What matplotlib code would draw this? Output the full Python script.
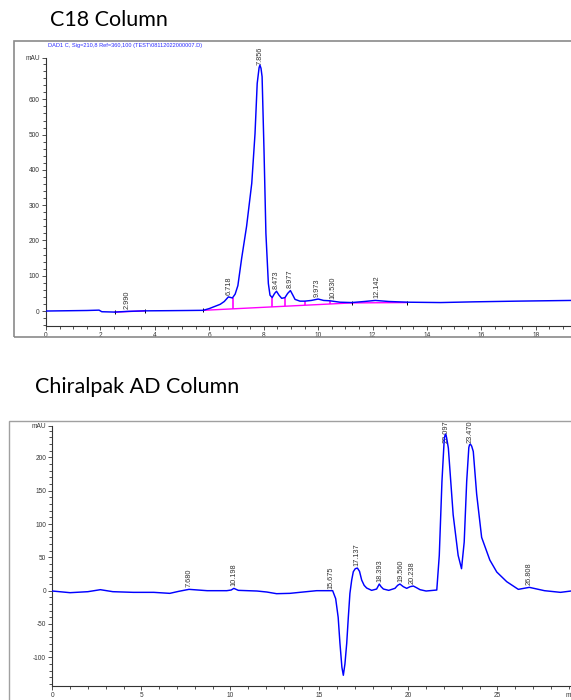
import matplotlib
matplotlib.use("Agg")
import matplotlib.pyplot as plt
from matplotlib.patches import Rectangle
from matplotlib.ticker import MultipleLocator, FixedLocator

# C18 trace (min, mAU)
c18_time = [0.0, 0.5, 1.0, 1.5, 1.95, 2.05, 2.53, 3.0, 3.64, 4.5,
            5.2, 5.78, 6.0, 6.2, 6.4, 6.55, 6.7, 6.85, 6.95, 7.05,
            7.19, 7.37, 7.56, 7.68, 7.76, 7.83, 7.86, 7.9, 7.94, 8.01,
            8.08, 8.17, 8.23, 8.31, 8.4, 8.47, 8.56, 8.66, 8.78, 8.88,
            8.98, 9.07, 9.15, 9.33, 9.51, 9.75, 10.0, 10.2, 10.43, 10.8,
            11.23, 11.7, 12.1, 12.6, 13.3, 14.5, 15.7, 17.3, 19.3]
c18_mau = [0, 0.5, 1, 1.5, 2.5, -2, -3, -1, 0.5, 1,
           1.5, 2, 7, 13, 19, 27, 40, 37, 48, 72,
           150, 240, 362, 503, 645, 690, 697, 688, 664, 456,
           220, 78, 45, 38, 50, 56, 45, 36, 38, 50,
           58, 45, 33, 28, 28, 30, 34, 30, 29, 25,
           24, 27, 30, 27, 25, 24, 26, 28, 30]
c18_peak_rt = [2.990, 6.718, 7.856, 8.473, 8.977, 9.973, 10.530, 12.142]
c18_peak_mau = [-1, 40, 697, 56, 58, 34, 29, 30]
c18_base_time = [[2.53, 3.64], [5.78, 11.23], [11.23, 13.27]]
c18_base_mau = [[-3, 0.5], [2, 23], [23, 24]]
c18_drop_time = [6.88, 8.31, 8.78, 9.51, 10.43]
c18_drop_low = [6.2, 11.7, 13.6, 16.4, 19.9]
c18_drop_high = [37, 38, 38, 28, 29]
c18_mark_time = [2.53, 3.64, 5.78, 11.23, 13.27]
c18_mark_mau = [-3, 0.5, 2, 23, 24]

# Chiralpak AD trace (min, mAU)
ad_time = [0.0, 1.0, 2.0, 2.7, 3.4, 4.55, 5.7, 6.6, 7.1, 7.68,
           8.7, 9.8, 10.05, 10.2, 10.45, 11.5, 12.05, 12.6, 13.35, 13.9,
           14.85, 15.75, 15.92, 16.06, 16.16, 16.27, 16.35, 16.44, 16.54, 16.63,
           16.72, 16.82, 16.91, 17.02, 17.14, 17.26, 17.38, 17.52, 17.66, 17.94,
           18.22, 18.37, 18.47, 18.6, 18.9, 19.25, 19.4, 19.53, 19.72, 19.91,
           20.1, 20.28, 20.46, 20.66, 21.0, 21.6, 21.74, 21.89, 22.02, 22.06,
           22.1, 22.15, 22.25, 22.52, 22.8, 22.99, 23.14, 23.28, 23.4, 23.44,
           23.49, 23.56, 23.65, 23.84, 24.12, 24.58, 24.97, 25.53, 26.18, 26.8,
           27.65, 28.55, 29.14]
ad_mau = [-0.5, -3, -1.5, 1.5, -1.5, -2.5, -2.5, -4, -1, 2,
          0, 0, 1, 3.5, 0.5, -0.5, -2, -4.5, -4, -2.5,
          0, 0, -12, -40, -79, -115, -127, -110, -79, -40,
          -4, 16, 28.5, 33, 34, 29, 16, 8, 4, 0.5,
          2.5, 10, 6, 2.5, 0.5, 3.5, 8, 10, 6, 3.5,
          6, 7, 4.5, 1.5, -0.5, 1, 53, 164, 228, 233,
          235, 230, 214, 114, 53, 33, 73, 164, 215, 219,
          220, 217, 209, 145, 80, 46, 28, 13.5, 2, 5,
          0, -2.5, -0.5]
ad_peak_rt = [7.680, 10.198, 15.675, 17.137, 18.393, 19.560, 20.238, 22.097, 23.470, 26.808]
ad_peak_mau = [2, 3.5, 0, 34, 10, 10, 7, 235, 220, 5]

W, H = 571, 700
fig = plt.figure(figsize=(W / 100, H / 100), dpi=100)
fig.patch.set_facecolor("white")


def px_box(left, top, right, bottom):
    return [left / W, 1 - bottom / H, (right - left) / W, (bottom - top) / H]


def style(ax):
    ax.patch.set_alpha(0)
    for s in ["top", "right"]:
        ax.spines[s].set_visible(False)
    for s in ["left", "bottom"]:
        ax.spines[s].set_color("#333333")
        ax.spines[s].set_linewidth(0.8)
    ax.tick_params(which="both", direction="out", colors="#333333",
                   labelsize=4.7, width=0.6, pad=1.5)
    ax.tick_params(which="major", length=3)
    ax.tick_params(which="minor", length=2)
    for lab in ax.get_xticklabels() + ax.get_yticklabels():
        lab.set_family("Liberation Sans")


def peak_labels(ax, rts, heights, pad, top_limit):
    texts = []
    for rt, h in zip(rts, heights):
        t = ax.text(rt, h + pad, "%.3f" % rt, rotation=90, ha="center",
                    va="bottom", fontsize=5.3, color="#333333",
                    family="Liberation Sans", clip_on=False)
        texts.append(t)
    return texts, top_limit


# frames around each chromatogram
fig.add_artist(Rectangle((14 / W, 1 - 337 / H), 1.0, (337 - 40.7) / H,
                         transform=fig.transFigure, fill=False,
                         ec="#8a8a8a", lw=1.2))
fig.add_artist(Rectangle((9 / W, -0.05), 1.0, 0.05 + 1 - 421 / H,
                         transform=fig.transFigure, fill=False,
                         ec="#a0a0a0", lw=1.0))

fig.text(50 / W, 1 - 26 / H, "C18 Column", fontsize=15.5, family="Lato",
         va="baseline", ha="left")
fig.text(35 / W, 1 - 393.3 / H, "Chiralpak AD Column", fontsize=15.5,
         family="Lato", va="baseline", ha="left")
fig.text(47.7 / W, 1 - 45.5 / H,
         "DAD1 C, Sig=210,8 Ref=360,100 (TEST\\08112022000007.D)",
         fontsize=4.1, color="#2b2bff", va="center", ha="left",
         family="Liberation Sans")

# ---- C18 panel
ax1 = fig.add_axes(px_box(46, 57.7, W, 325.7))
c18_top = 718
ax1.set_xlim(0, 19.29)
ax1.set_ylim(-41.6, c18_top)
for bt, bv in zip(c18_base_time, c18_base_mau):
    ax1.plot(bt, bv, color="#ff00ff", lw=1.0, zorder=2)
ax1.vlines(c18_drop_time, c18_drop_low, c18_drop_high, colors="#ff00ff",
           lw=1.2, zorder=2)
ax1.plot(c18_mark_time, c18_mark_mau, ls="none", marker="|", ms=3,
         mew=0.7, color="black", zorder=3)
ax1.plot(c18_time, c18_mau, color="#0000ff", lw=1.05, zorder=4)
ax1.xaxis.set_major_locator(MultipleLocator(2))
ax1.xaxis.set_minor_locator(MultipleLocator(0.5))
yt1 = [0, 100, 200, 300, 400, 500, 600, c18_top]
ax1.yaxis.set_major_locator(FixedLocator(yt1))
ax1.set_yticklabels([str(v) for v in yt1[:-1]] + ["mAU"])
ax1.yaxis.set_minor_locator(MultipleLocator(20))
style(ax1)
t1 = peak_labels(ax1, c18_peak_rt, c18_peak_mau, 6, 748)

# ---- Chiralpak AD panel
ax2 = fig.add_axes(px_box(52.3, 425.7, W, 686))
ad_top = 247.7
ax2.set_xlim(0, 29.14)
ax2.set_ylim(-143.1, ad_top)
ax2.plot(ad_time, ad_mau, color="#0000ff", lw=1.05, zorder=4)
ax2.xaxis.set_major_locator(MultipleLocator(5))
ax2.xaxis.set_minor_locator(MultipleLocator(1))
yt2 = [-100, -50, 0, 50, 100, 150, 200, ad_top]
ax2.yaxis.set_major_locator(FixedLocator(yt2))
ax2.set_yticklabels([str(v) for v in yt2[:-1]] + ["mAU"])
ax2.yaxis.set_minor_locator(MultipleLocator(10))
style(ax2)
# axis unit, cut by the right edge as in the original printout
ax2.annotate("min", xy=(28.84, 0), xycoords=("data", "axes fraction"),
             xytext=(0, -4.5), textcoords="offset points", va="top",
             ha="left", fontsize=4.7, color="#333333",
             family="Liberation Sans", annotation_clip=False)
t2 = peak_labels(ax2, ad_peak_rt, ad_peak_mau, 3, 256)

# push labels that run past the top back down
fig.canvas.draw()
renderer = fig.canvas.get_renderer()
for ax, (texts, lim) in [(ax1, t1), (ax2, t2)]:
    lim_px = ax.transData.transform((0, lim))[1]
    for t in texts:
        bb = t.get_window_extent(renderer)
        if bb.y1 > lim_px:
            t.set_y(lim)
            t.set_va("top")

fig.savefig("out.png", dpi=100)
